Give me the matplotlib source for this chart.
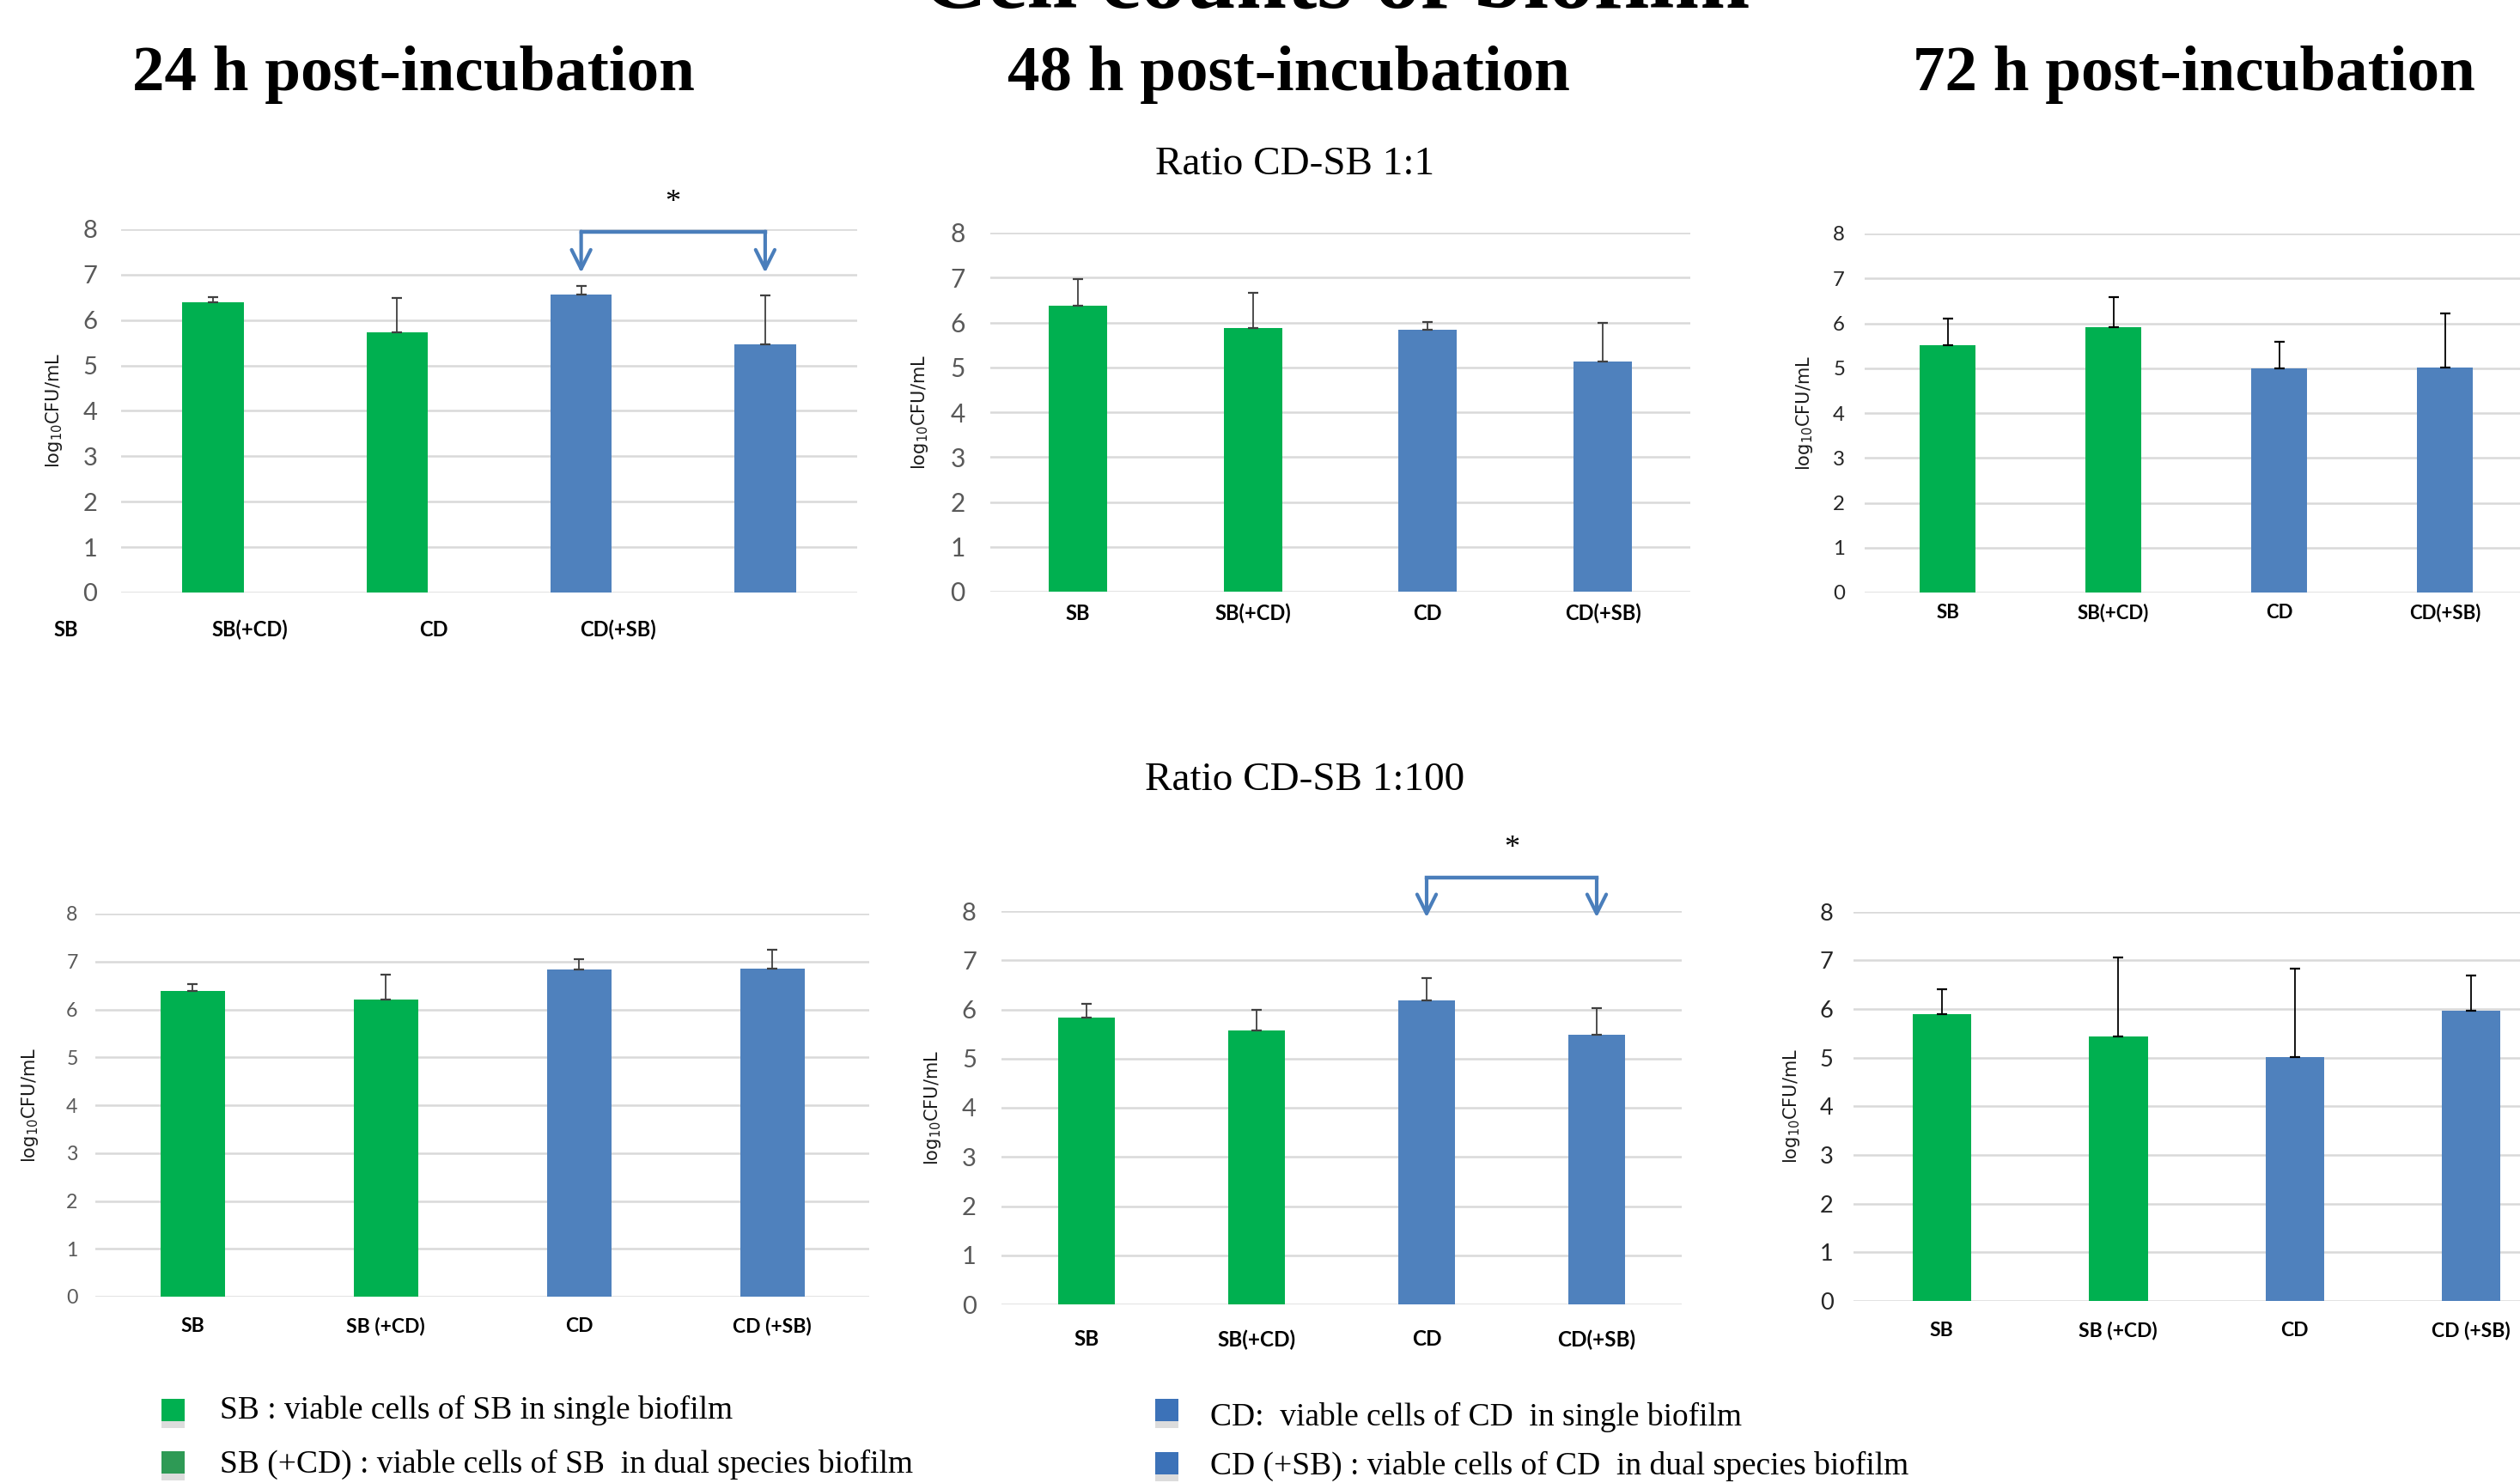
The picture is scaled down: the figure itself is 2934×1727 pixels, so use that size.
import numpy as np
import matplotlib
matplotlib.use('Agg')
import matplotlib.pyplot as plt
from matplotlib.patches import Rectangle

plt.rcParams['font.family'] = ['Lato', 'DejaVu Sans']

categorias = ['SB', 'SB(+CD)', 'CD', 'CD(+SB)']
categorias_esp = ['SB', 'SB (+CD)', 'CD', 'CD (+SB)']

# ratio 1:1
media_11_24h = [6.40, 5.73, 6.57, 5.47]
de_11_24h = [0.11, 0.76, 0.19, 1.08]
media_11_48h = [6.37, 5.87, 5.84, 5.12]
de_11_48h = [0.59, 0.79, 0.17, 0.87]
media_11_72h = [5.52, 5.92, 4.99, 5.02]
de_11_72h = [0.58, 0.66, 0.59, 1.20]

# ratio 1:100
media_1100_24h = [6.39, 6.20, 6.83, 6.85]
de_1100_24h = [0.14, 0.52, 0.22, 0.40]
media_1100_48h = [5.83, 5.57, 6.19, 5.48]
de_1100_48h = [0.28, 0.42, 0.45, 0.55]
media_1100_72h = [5.89, 5.44, 5.01, 5.96]
de_1100_72h = [0.52, 1.62, 1.82, 0.72]

colores = ['#00B050', '#00B050', '#4F81BD', '#4F81BD']
leyenda = ['SB : viable cells of SB in single biofilm',
           'SB (+CD) : viable cells of SB  in dual species biofilm',
           'CD:  viable cells of CD  in single biofilm',
           'CD (+SB) : viable cells of CD  in dual species biofilm']

W, H = 2934, 1727
fig = plt.figure(figsize=(W / 100, H / 100), dpi=100)
serif = ['Liberation Serif', 'DejaVu Serif']


def caja(izq, der, arriba, abajo):
    return [izq / W, 1 - abajo / H, (der - izq) / W, (abajo - arriba) / H]


def panel(box, etiquetas, media, de, ysize, ypad, xsize, xpad, ecolor, ycolor, ylab_x, corrimiento=0.0):
    ax = fig.add_axes(caja(*box))
    x = np.arange(len(media))
    ax.bar(x, media, width=1 / 3, color=colores, zorder=2)
    ax.errorbar(x, media, yerr=[np.zeros(len(de)), de], fmt='none', ecolor=ecolor,
                elinewidth=1.3, capsize=4, capthick=1.6, zorder=3)
    ax.set_xlim(-0.5, len(media) - 0.5)
    ax.set_ylim(0, 8)
    ax.set_yticks(range(9))
    ax.yaxis.grid(True, color='#D9D9D9', linewidth=1.8)
    ax.set_axisbelow(True)
    for s in ax.spines.values():
        s.set_visible(False)
    ax.tick_params(axis='y', length=0, pad=ypad, labelsize=ysize, labelcolor=ycolor)
    if corrimiento == 0.0:
        ax.set_xticks(x, etiquetas)
        ax.tick_params(axis='x', length=0, pad=xpad, labelsize=xsize)
        for t in ax.get_xticklabels():
            t.set_fontweight('bold')
    else:
        ax.set_xticks([])
        for i, et in enumerate(etiquetas):
            ax.annotate(et, xy=(i + corrimiento, 0), xycoords=('data', 'axes fraction'),
                        xytext=(0, -xpad), textcoords='offset points', ha='center', va='top',
                        fontsize=xsize, fontweight='bold', annotation_clip=False)
    ax.set_ylabel(r'log$_{10}$CFU/mL', fontsize=15, family='DejaVu Sans', color='#1a1a1a')
    ax.yaxis.set_label_coords(ylab_x, 0.5)
    return ax


def corchete(ax, i, j, arriba, punta, y_estrella):
    azul = '#4A7EBB'
    ax.plot([i, j], [arriba, arriba], color=azul, lw=3.2, clip_on=False, zorder=4,
            solid_capstyle='projecting')
    for k in (i, j):
        ax.annotate('', xy=(k, punta), xytext=(k, arriba), annotation_clip=False,
                    arrowprops=dict(arrowstyle='->,head_length=0.8,head_width=0.4', color=azul,
                                    lw=3.0, mutation_scale=20, shrinkA=0, shrinkB=0))
    ax.text((i + j) / 2, y_estrella, '*', ha='center', va='center', fontsize=26,
            family=serif, clip_on=False)


ax1 = panel((141, 998, 267, 690), categorias, media_11_24h, de_11_24h,
            21, 20, 17, 23, '#404040', '#595959', -0.077, corrimiento=-0.8)
corchete(ax1, 2, 3, 7.95, 7.04, 8.57)
panel((1153, 1968, 271, 689), categorias, media_11_48h, de_11_48h,
      21.5, 21, 17, 10, '#404040', '#595959', -0.086)
panel((2171, 2943, 272, 690), categorias, media_11_72h, de_11_72h,
      17.3, 16.5, 16, 9, 'black', '#262626', -0.075)
panel((111.5, 1011.5, 1064, 1510), categorias_esp, media_1100_24h, de_1100_24h,
      16.7, 15, 16.5, 17, '#404040', '#595959', -0.072)
ax5 = panel((1166, 1958, 1061, 1519), categorias, media_1100_48h, de_1100_48h,
            21, 21, 17.5, 21, '#404040', '#595959', -0.086)
corchete(ax5, 2, 3, 8.68, 7.87, 9.27)
panel((2158, 2980, 1061.5, 1515), categorias_esp, media_1100_72h, de_1100_72h,
      19.5, 17, 16.5, 17, 'black', '#262626', -0.073)

fig.text(1555 / W, 1 - 8 / H, 'Cell counts of biofilm', ha='center', va='baseline',
         fontsize=76, fontweight='bold', family=serif)
for xc, txt in [(481, '24 h post-incubation'), (1500, '48 h post-incubation'),
                (2554, '72 h post-incubation')]:
    fig.text(xc / W, 1 - 105 / H, txt, ha='center', va='baseline', fontsize=54,
             fontweight='bold', family=serif)
fig.text(1508 / W, 1 - 203 / H, 'Ratio CD-SB 1:1', ha='center', va='baseline',
         fontsize=34, family=serif)
fig.text(1519 / W, 1 - 920 / H, 'Ratio CD-SB 1:100', ha='center', va='baseline',
         fontsize=34, family=serif)

cuadros = [(188, 1629, '#00B050'), (188, 1690, '#2E9A55'),
           (1345, 1629, '#3C72B8'), (1345, 1691, '#3C72B8')]
textos = [(256, 1652), (256, 1715), (1409, 1660), (1409, 1717)]
for (cx, cy, c), (tx, ty), txt in zip(cuadros, textos, leyenda):
    fig.add_artist(Rectangle((cx / W, 1 - (cy + 34) / H), 27 / W, 8 / H,
                             transform=fig.transFigure, facecolor='#BBBBBB', alpha=0.5,
                             edgecolor='none'))
    fig.add_artist(Rectangle((cx / W, 1 - (cy + 26) / H), 27 / W, 26 / H,
                             transform=fig.transFigure, facecolor=c, edgecolor='none'))
    fig.text(tx / W, 1 - ty / H, txt, ha='left', va='baseline', fontsize=27, family=serif)

fig.savefig('out.png', dpi=100)
